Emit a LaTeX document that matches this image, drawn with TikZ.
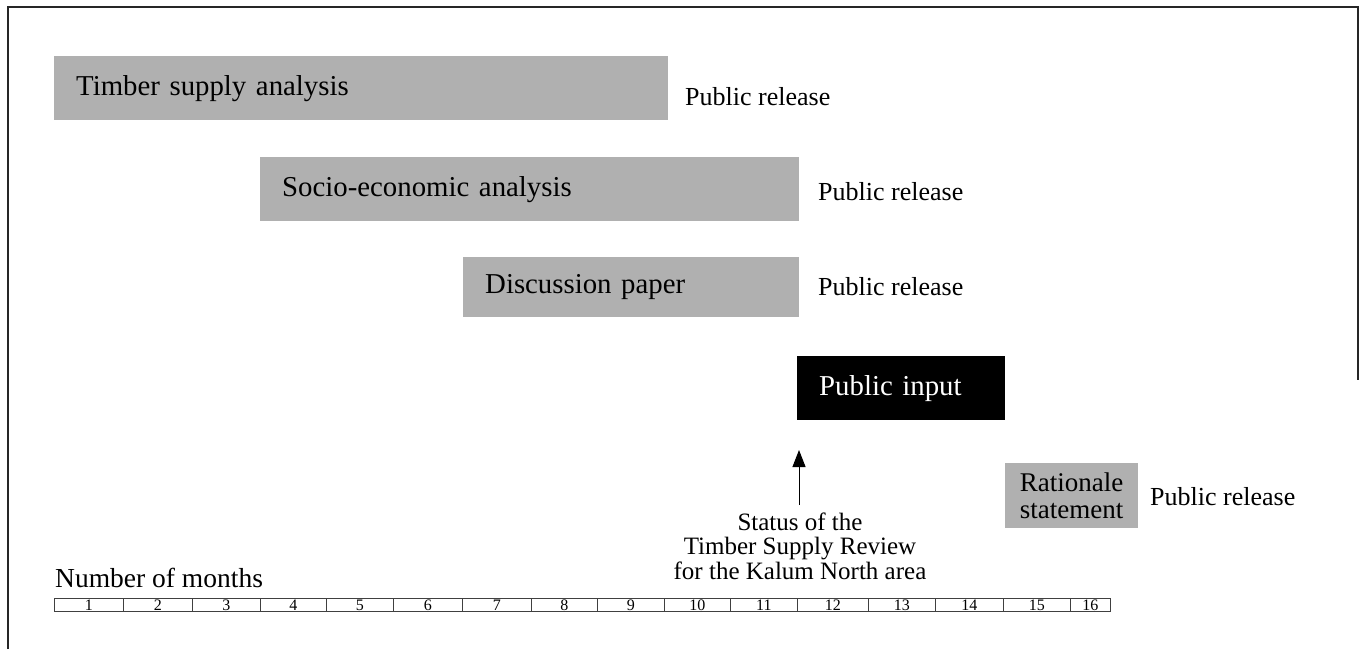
\documentclass[tikz,border=0pt]{standalone}
\usepackage{fontspec}
\setmainfont{Liberation Serif}
\usetikzlibrary{arrows.meta}
\begin{document}
\begin{tikzpicture}[x=1pt,y=-1pt,
  bar/.style={fill=black!31, inner xsep=22pt, inner ysep=0pt, anchor=north west, align=left, font=\fontsize{28.8}{30}\selectfont},
  rel/.style={anchor=west, inner sep=0pt, font=\fontsize{26}{27}\selectfont},
  cell/.style={draw=black!75, line width=0.7pt, minimum height=13pt, inner sep=0pt, anchor=north west, font=\fontsize{16}{16}\selectfont},
  frame/.style={line width=1.2pt, black!85}]
\useasboundingbox (0,0) rectangle (1359,649);
% frame
\draw[frame] (8,649) -- (8,7) -- (1358,7) -- (1358,380);
% bars
\node[bar, text width=570pt, minimum height=64pt] (tsa) at (54,56) {Timber supply analysis};
\node[rel] (r1) at (685,97) {Public release};
\node[bar, text width=495pt, minimum height=64pt] (sea) at (260,157) {Socio-economic analysis};
\node[rel] (r2) at (818,192) {Public release};
\node[bar, text width=292pt, minimum height=60pt] (dp) at (463,257) {Discussion paper};
\node[rel] (r3) at (818,287) {Public release};
\node[bar, fill=black, text=white, text width=164pt, minimum height=64pt] (pi) at (797,356) {Public input};
\node[bar, inner xsep=2pt, text width=129pt, minimum height=65pt, align=center, font=\fontsize{27}{27}\selectfont] (rs) at (1005,463) {Rationale\\statement};
\node[rel] (r4) at (1150,497) {Public release};
% status
\node[align=center, inner sep=0pt, font=\fontsize{25}{24.5}\selectfont] (st) at (800,546) {Status of the\\Timber Supply Review\\for the Kalum North area};
\coordinate (tip) at (799,450);
\coordinate (tail) at (799,505);
\draw[line width=1pt, -{Triangle[width=13pt,length=17pt]}] (tail) -- (tip);
% timeline
\node[anchor=west, inner sep=0pt, font=\fontsize{27.5}{29}\selectfont] (nm) at (55,578) {Number of months};
\def\bnds{54/123/1,123/192/2,192/260/3,260/326/4,326/393/5,393/462/6,462/531/7,531/597/8,597/664/9,664/730/10,730/797/11,797/868/12,868/935/13,935/1003/14,1003/1070/15,1070/1110/16}
\foreach \a/\b/\n in \bnds {
  \pgfmathsetmacro\w{\b-\a}
  \node[cell, minimum width=\w pt] (c\n) at (\a,598) {\n};
}
\end{tikzpicture}
\end{document}
